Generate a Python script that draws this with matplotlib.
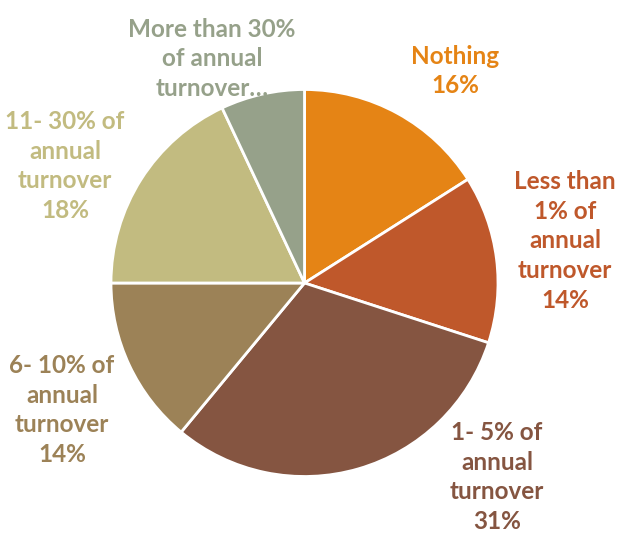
import matplotlib
matplotlib.use("Agg")
import matplotlib.pyplot as plt

categories = [
    "Nothing",
    "Less than\n1% of\nannual\nturnover",
    "1- 5% of\nannual\nturnover",
    "6- 10% of\nannual\nturnover",
    "11- 30% of\nannual\nturnover",
    "More than 30%\nof annual\nturnover\u2026",
]
shares = [16, 14, 31, 14, 18, 7]
colors = ["#E58415", "#BF582B", "#855541", "#9C8257", "#C2BB80", "#96A18A"]

# label anchor points (pixel coordinates from the top-left corner)
label_pos = [(455, 71), (565, 241), (497, 477), (62, 410), (65, 166), (212, 59)]
show_pct = [True, True, True, True, True, False]

W, H = 620, 533
fig = plt.figure(figsize=(W / 100, H / 100), dpi=100)
ax = fig.add_axes([0, 0, 1, 1])

cx, cy, r = 304.5, H - 283, 193.5
ax.pie(shares, colors=colors, startangle=90, counterclock=False,
       center=(cx, cy), radius=r, frame=True,
       wedgeprops=dict(edgecolor="white", linewidth=2))
ax.set_xlim(0, W)
ax.set_ylim(0, H)
ax.set_aspect("equal")
ax.axis("off")

for name, val, col, (px, py), pct in zip(categories, shares, colors, label_pos, show_pct):
    text = f"{name}\n{val}%" if pct else name
    ax.text(px, H - py, text, ha="center", va="center", color=col,
            fontsize=17.5, fontweight="bold", family=["Lato", "DejaVu Sans"],
            linespacing=1.36)

fig.savefig("out.png", dpi=100)
